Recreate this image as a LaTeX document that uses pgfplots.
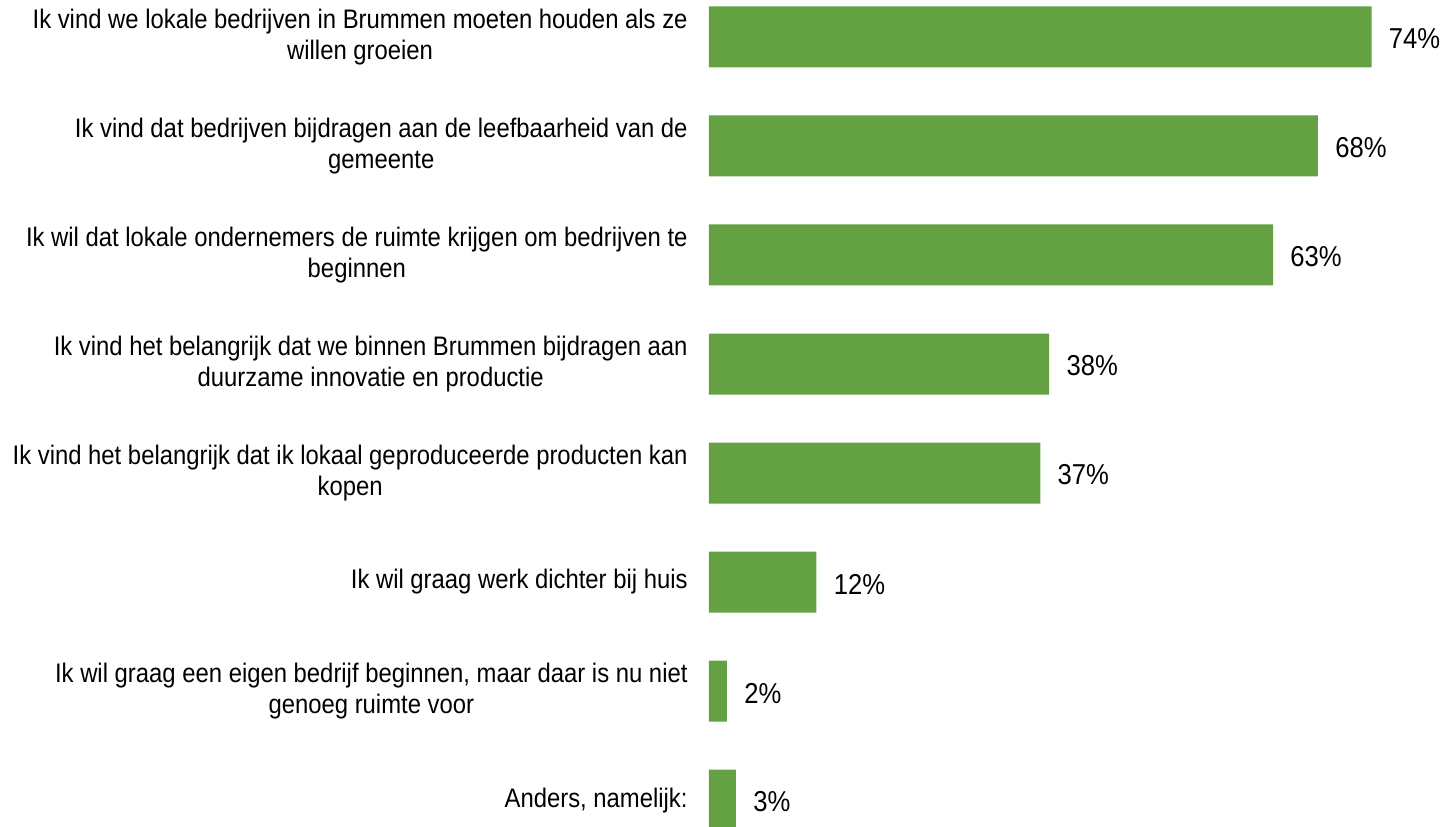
\documentclass[border=0pt]{standalone}
\usepackage{fontspec}
\setmainfont{Liberation Sans}[FakeStretch=0.89]
\usepackage{pgfplots}
\pgfplotsset{compat=1.18}
\definecolor{bargreen}{HTML}{63A142}
\begin{document}
\begin{tikzpicture}
\begin{axis}[
  name=ax,
  scale only axis,
  width=368pt, height=413.5pt,
  xbar, bar width=30.5pt,
  xmin=0, xmax=82.2,
  ymin=-0.339, ymax=7.247,
  y dir=reverse,
  hide x axis,
  axis y line*=left,
  y axis line style={draw=none},
  major tick length=0pt,
  ytick={0,...,7},
  yticklabels={
    {Ik vind we lokale bedrijven in Brummen moeten houden als ze\\willen groeien},
    {Ik vind dat bedrijven bijdragen aan de leefbaarheid van de\\gemeente},
    {Ik wil dat lokale ondernemers de ruimte krijgen om bedrijven te\\beginnen},
    {Ik vind het belangrijk dat we binnen Brummen bijdragen aan\\duurzame innovatie en productie},
    {Ik vind het belangrijk dat ik lokaal geproduceerde producten kan\\kopen},
    {Ik wil graag werk dichter bij huis},
    {Ik wil graag een eigen bedrijf beginnen, maar daar is nu niet\\genoeg ruimte voor},
    {Anders, namelijk:}},
  yticklabel style={align=center, font=\fontsize{13.4}{15.3}\selectfont, inner sep=0pt, xshift=-10.5pt},
  clip=false,
  point meta=x,
  /pgf/number format/assume math mode=true,
  nodes near coords={\pgfmathprintnumber{\pgfplotspointmeta}\%},
  every node near coord/.append style={font=\fontsize{14.4}{16}\selectfont, inner sep=0pt, xshift=8.5pt, yshift=-1pt, anchor=west, text=black},
]
\addplot[fill=bargreen, draw=none] coordinates {
  (74,0) (68,1) (63,2) (38,3) (37,4) (12,5) (2,6) (3,7)
};
\end{axis}
\pgfresetboundingbox
\path ([xshift=-354.5pt]ax.south west) rectangle (ax.north east);
\end{tikzpicture}
\end{document}
